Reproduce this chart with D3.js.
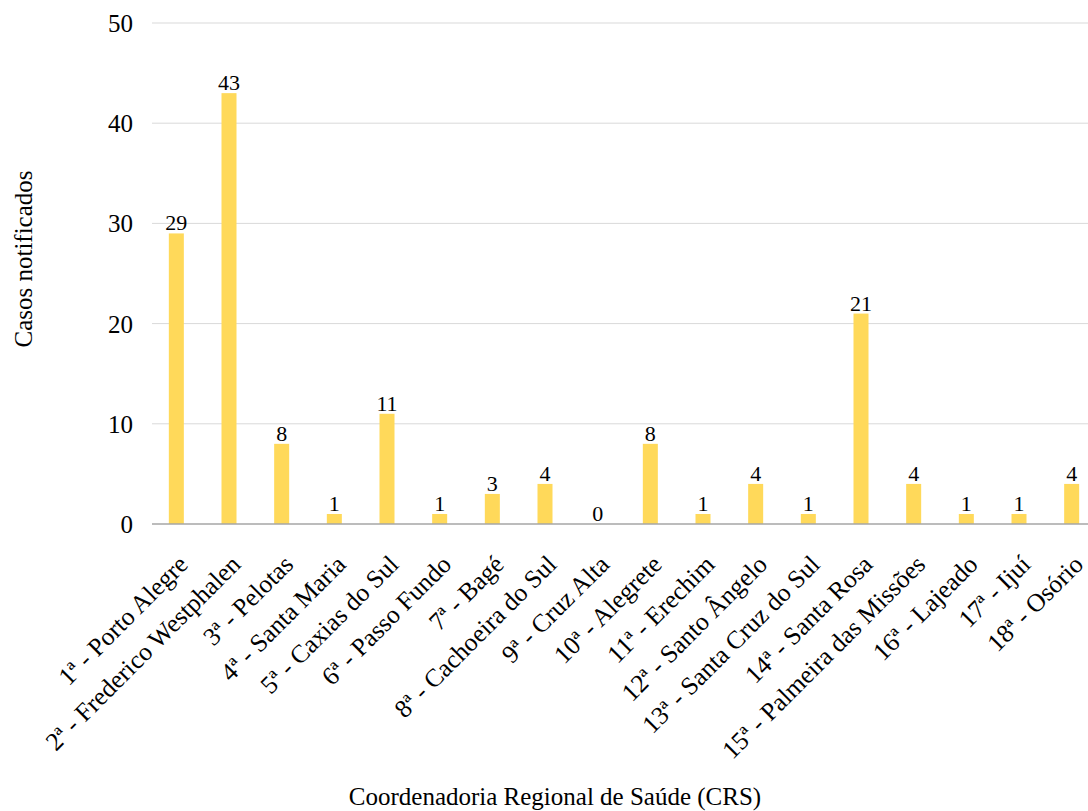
<!DOCTYPE html>
<html>
<head>
<meta charset="utf-8">
<script src="https://cdn.jsdelivr.net/npm/d3@7"></script>
<style>
  html, body { margin: 0; padding: 0; background: #fff; }
  svg { display: block; }
  svg text { font-family: "Liberation Serif", "Times New Roman", serif; }
</style>
</head>
<body>
<svg id="chart" width="1088" height="811"></svg>
<script>
// Casos notificados por Coordenadoria Regional de Saúde
const categories = [
  "1ª - Porto Alegre",
  "2ª - Frederico Westphalen",
  "3ª - Pelotas",
  "4ª - Santa Maria",
  "5ª - Caxias do Sul",
  "6ª - Passo Fundo",
  "7ª - Bagé",
  "8ª - Cachoeira do Sul",
  "9ª - Cruz Alta",
  "10ª - Alegrete",
  "11ª - Erechim",
  "12ª - Santo Ângelo",
  "13ª - Santa Cruz do Sul",
  "14ª - Santa Rosa",
  "15ª - Palmeira das Missões",
  "16ª - Lajeado",
  "17ª - Ijuí",
  "18ª - Osório"
];
const cases = [29, 43, 8, 1, 11, 1, 3, 4, 0, 8, 1, 4, 1, 21, 4, 1, 1, 4];
const yTicks = [0, 10, 20, 30, 40, 50];

const FONT = "'Liberation Serif', 'Times New Roman', serif";
const svg = d3.select("#chart");
const plot = { left: 150, right: 1098, top: 23, bottom: 524 };

const x = d3.scaleBand()
  .domain(categories)
  .range([plot.left, plot.right])
  .paddingInner(0.715)
  .paddingOuter(0.3575);

const y = d3.scaleLinear()
  .domain([0, 50])
  .range([plot.bottom, plot.top]);

// horizontal gridlines
svg.append("g")
  .selectAll("line")
  .data(yTicks.filter(d => d > 0))
  .join("line")
  .attr("x1", 152)
  .attr("x2", 1088)
  .attr("y1", d => y(d))
  .attr("y2", d => y(d))
  .attr("stroke", "#d9d9d9")
  .attr("stroke-width", 1);

// y axis tick labels
const yAxis = d3.axisLeft(y).tickValues(yTicks).tickSize(0).tickPadding(0);
svg.append("g")
  .attr("transform", "translate(133,0)")
  .call(yAxis)
  .attr("font-family", FONT)
  .call(g => g.select(".domain").remove())
  .call(g => g.selectAll("text")
    .attr("font-family", FONT)
    .attr("font-size", 25)
    .attr("fill", "#000")
    .attr("dy", "0.34em"));

const rows = categories.map((c, i) => ({ c, v: cases[i] }));

// bars
svg.append("g")
  .selectAll("rect")
  .data(rows)
  .join("rect")
  .attr("x", d => x(d.c))
  .attr("width", x.bandwidth())
  .attr("y", d => y(d.v))
  .attr("height", d => y(0) - y(d.v))
  .attr("fill", "#ffd95a");

// baseline
svg.append("line")
  .attr("x1", 152)
  .attr("x2", 1088)
  .attr("y1", y(0))
  .attr("y2", y(0))
  .attr("stroke", "#a6a6a6")
  .attr("stroke-width", 1.5);

// value labels
svg.append("g")
  .selectAll("text")
  .data(rows)
  .join("text")
  .attr("x", d => x(d.c) + x.bandwidth() / 2)
  .attr("y", d => y(d.v) - 3)
  .attr("text-anchor", "middle")
  .attr("font-family", FONT)
  .attr("font-size", 22)
  .attr("fill", "#000")
  .text(d => d.v);

// category labels, rotated
const xAxis = d3.axisBottom(x).tickSize(0).tickPadding(0);
svg.append("g")
  .attr("transform", `translate(0,${plot.bottom})`)
  .call(xAxis)
  .attr("font-family", FONT)
  .call(g => g.select(".domain").remove())
  .call(g => g.selectAll("text")
    .attr("font-family", FONT)
    .attr("font-size", 25.5)
    .attr("fill", "#000")
    .attr("text-anchor", "end")
    .attr("dy", null)
    .attr("y", 0)
    .attr("transform", "translate(13,42) rotate(-45)"));

// axis titles
svg.append("text")
  .attr("x", 555)
  .attr("y", 805)
  .attr("text-anchor", "middle")
  .attr("font-family", FONT)
  .attr("font-size", 25)
  .text("Coordenadoria Regional de Saúde (CRS)");

svg.append("text")
  .attr("transform", "translate(32,259) rotate(-90)")
  .attr("text-anchor", "middle")
  .attr("font-family", FONT)
  .attr("font-size", 25)
  .text("Casos notificados");
</script>
</body>
</html>
